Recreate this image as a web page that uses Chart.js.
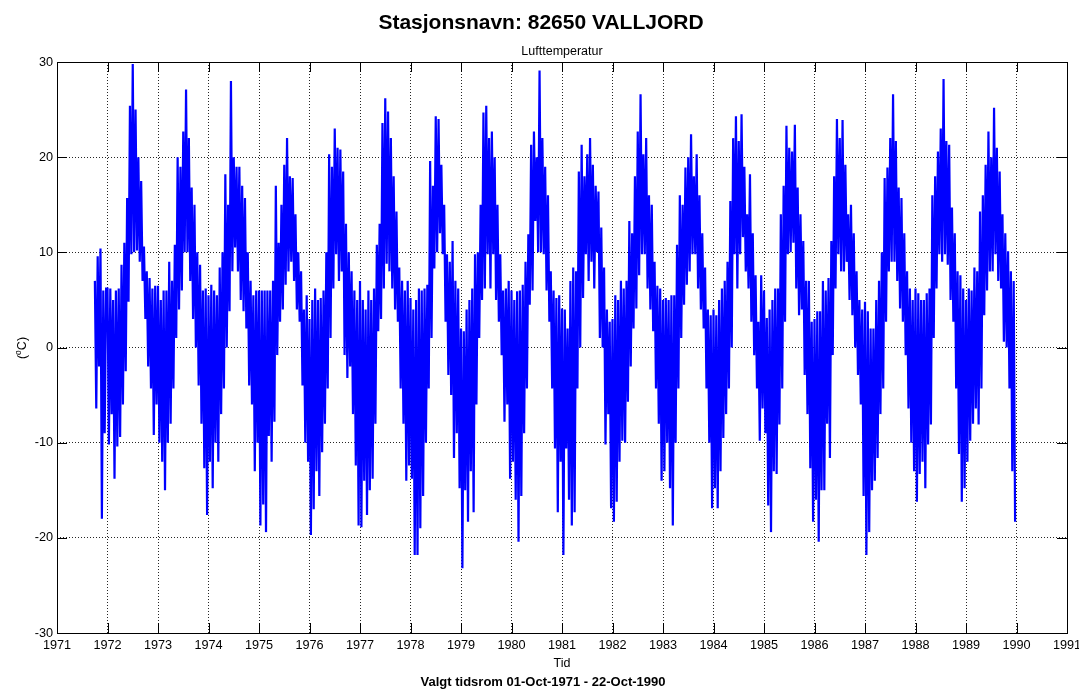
<!DOCTYPE html>
<html><head><meta charset="utf-8">
<script src="https://cdn.jsdelivr.net/npm/chart.js@4.4.0/dist/chart.umd.min.js"></script>
<style>html,body{margin:0;padding:0;background:#fff;}#wrap{width:1079px;height:690px;}</style>
</head><body><div id="wrap"><canvas id="c" width="1079" height="690"></canvas></div>
<script>
// ---- data (sample every 1/36 year, alternating daily highs/lows) ----
const startYear = 1971.75;
const samplesPerYear = 36;
const y1971 = [7,-6.4,9.6,-2,10.4,-18,6,-9,6.2];
const y1972 = [6.2,-10.2,6.2,-7,5,-13.8,6,-10.4,6.2,-9.4,8.7,-6,11,-2.5,15.7,4.8,25.4,9.8,29.8,10,25,10.2,20,9,17.5,7,10.6,3,8,-2,7.3,-4.3,6.2,-9.2,6.5,-6];
const y1973 = [6.5,-10,5,-12,6,-15,6,-10,9,-8,7,-4.3,10.8,1,20,4,19,6,22.7,10,27.1,10,22,7,16.8,3,15,0,10,-4,8.7,-8,6,-12.7,6.2,-17.6];
const y1974 = [5.5,-12,6.6,-14.8,6,-10,5.5,-12,8.4,-7,10,-4.3,18.2,0,15,3.8,28,8,20,10.5,19,8,19,5,17,3.8,15.7,2,10,-4,7,-6,5.5,-13,6,-10];
const y1975 = [6,-18.7,6,-16.5,6,-19.4,6,-9.3,6,-12,7,-7.8,17,-0.8,11,2.7,15,4,19.2,6.6,22,8,18,9,17.8,7,14,4,10,2.7,8,-4,4,-10,5.5,-12];
const y1976 = [3,-19.7,5,-17,6.2,-13,5,-15.6,5.2,-11,6,-8,10,-4.3,20.3,1,19,6.2,23,9.8,21,7,20.8,8,18.5,-0.8,13,-3.2,10,-2,8,-7,6,-12.4,5,-18.7];
const y1977 = [7,-18.9,5,-14,4,-17.6,6,-15,5,-13.8,6.2,-8,10.8,1.7,13,3,23.6,6.2,26.2,8.8,24.8,8,22,6.2,18,4,14.3,2.7,8.4,-4.3,7,-8,6,-14,7,-12.4];
const y1978 = [5.2,-13.8,4,-21.8,5,-21.8,6.2,-19,6,-15.6,6.2,-10,6.6,-4.3,19.6,1,17,8.3,24.3,10,24,12,19.2,9.8,15,2.7,9.8,-2.9,9,-5,11.2,-11.6,7,-9,6.2,-14.8];
const y1979 = [2,-23.2,1.7,-15,4,-18.3,5,-13,6.2,-17.3,9.8,-6,10,1,15,5,24.7,6.2,25.4,9.8,22,6.2,22.7,9.8,20,5,15,2.7,9.8,-0.8,6,-7.8,6.2,-6,7,-13.8];
const y1980 = [6,-12,5,-16,5.9,-20.4,6,-15.6,6.6,-9,9,-4.3,11.9,4.5,21.3,6,22.7,13.3,20,10,29.1,10,22,9.8,19,6,16,2.7,8,-4.3,6,-10.6,5.2,-17.3,5.5,-12];
const y1981 = [4.1,-21.8,4,-10.6,2,-16,7,-18.7,8.4,-17.3,8,-4.3,18.5,0,21.3,5.2,18,9.8,20.3,7,22,9,19.2,6.2,17,10,16.4,1,12.6,0,8.4,-10.2,4,-7,2.7,-16.9];
const y1982 = [3,-18.3,5.5,-16.2,5,-12,7,-9.8,6.2,-10,7,-5.7,13.3,-2,12,2,18,4.1,22.7,7.6,26.6,9.8,20.3,9.8,22,6.2,16,4,15,1.7,9,-4.3,6.5,-8,6.2,-14];
const y1983 = [5,-13,5.2,-10,5,-14.8,5.5,-18.7,5.5,-10,10.8,-4.3,16,1,15,4.5,18.9,6.6,20,8,22.4,9.8,18,9.8,20.3,6.2,16,4,12,2,8.4,-4.3,4,-10,3.4,-16.9];
const y1984 = [4,-14.8,3.4,-16.9,5,-13,6.2,-9.5,7,-7,9,-4.3,15.4,0,22,9.8,24.3,6.2,21.7,9.8,24.5,11.6,19,8,14,6.2,18.2,2.7,12,-0.8,7.6,-4.3,2.7,-9.8,7.6,-6.4];
const y1985 = [6,-9,3.1,-16.6,4,-19.4,5,-13,6.2,-13.3,6.2,-8.1,14,-4.3,17,2.7,23.3,9.8,21,10,20.6,11,23.4,6.2,16.8,3.4,14,4,11.2,-2.9,7,-7,7,-12.7,2.7,-18.3];
const y1986 = [3,-16,3.8,-20.4,3.8,-15,7,-15,6,-8,7.3,-11.6,11.2,-0.8,18,6.2,24,9.8,22,8,23.9,8,19.2,9,14,5,15,3.4,12,0,8,-2.9,5,-6,4,-15.6];
const y1987 = [4.8,-21.8,3.8,-19.4,2,-15,2,-14,5,-11.6,7,-7,10,-4.3,17.8,2.7,18.9,8,22,9,26.6,9,21.7,7,16.8,4.1,15.7,2.7,12,-0.8,8,-6.4,6.2,-10,5,-13];
const y1988 = [6.2,-16.2,5.7,-13.3,5,-12,5,-14.8,5.7,-10.2,6.2,-8.1,16,1,18,6.2,20.6,9.8,23,9,28.2,9.8,21.7,8.7,21.3,5,14.7,2.7,12,-4.3,8,-11.2,7.6,-16.2,6.2,-14.8];
const y1989 = [5,-12,6.2,-9.8,6,-8,8.4,-6.4,8,-8.1,14.3,-4.3,16,3.4,19.2,6,22.7,8,20,8,25.2,9.8,21,7,18.5,6.2,14,0.6,12,0,10.1,-4.3,8,-13,7,-18.3];

const xTicks = [1971,1972,1973,1974,1975,1976,1977,1978,1979,1980,1981,1982,1983,1984,1985,1986,1987,1988,1989,1990,1991];
const yTicks = [-30,-20,-10,0,10,20,30];

const titleText = 'Stasjonsnavn: 82650 VALLJORD';
const subtitleText = 'Lufttemperatur';
const xLabel = 'Tid';
const periodText = 'Valgt tidsrom 01-Oct-1971 - 22-Oct-1990';

const temps = [].concat(y1971,y1972,y1973,y1974,y1975,y1976,y1977,y1978,y1979,y1980,
  y1981,y1982,y1983,y1984,y1985,y1986,y1987,y1988,y1989);
const points = temps.map((v,i)=>({x: startYear + i/samplesPerYear, y: v}));

const FONT = '"Liberation Sans", Arial, Helvetica, sans-serif';

const frame = {
  id: 'frame',
  afterDatasetsDraw(chart){
    const {ctx, chartArea: a, scales: {x, y}} = chart;
    ctx.save();
    ctx.strokeStyle = '#000';
    ctx.lineWidth = 1;
    ctx.setLineDash([]);
    ctx.beginPath();
    xTicks.forEach(v => {
      const px = Math.round(x.getPixelForValue(v)) + 0.5;
      ctx.moveTo(px, a.bottom); ctx.lineTo(px, a.bottom - 10);
      ctx.moveTo(px, a.top); ctx.lineTo(px, a.top + 10);
    });
    yTicks.forEach(v => {
      const py = Math.round(y.getPixelForValue(v)) + 0.5;
      ctx.moveTo(a.left, py); ctx.lineTo(a.left + 10, py);
      ctx.moveTo(a.right, py); ctx.lineTo(a.right - 10, py);
    });
    ctx.stroke();
    ctx.strokeRect(Math.round(a.left) + 0.5, Math.round(a.top) + 0.5,
      Math.round(a.right - a.left), Math.round(a.bottom - a.top));
    ctx.restore();
  },
  afterDraw(chart){
    const {ctx, chartArea: a} = chart;
    const cx = (a.left + a.right) / 2;
    ctx.save();
    ctx.fillStyle = '#000';
    ctx.textAlign = 'center';
    ctx.textBaseline = 'alphabetic';
    ctx.font = 'bold 21px ' + FONT;
    ctx.fillText(titleText, 541, 29);
    ctx.font = '12.5px ' + FONT;
    ctx.fillText(subtitleText, cx, 55);
    ctx.fillText(xLabel, cx, 667);
    ctx.font = 'bold 13px ' + FONT;
    ctx.fillText(periodText, 543, 686);
    // y axis label (°C) with superscript o, rotated
    ctx.translate(26, 348);
    ctx.rotate(-Math.PI / 2);
    ctx.textAlign = 'left';
    const p1 = '(', p3 = 'C)';
    ctx.font = '12.5px ' + FONT;
    const w1 = ctx.measureText(p1).width;
    ctx.font = '8.5px ' + FONT;
    const w2 = ctx.measureText('o').width;
    ctx.font = '12.5px ' + FONT;
    const w3 = ctx.measureText(p3).width;
    let sx = -(w1 + w2 + w3) / 2;
    ctx.fillText(p1, sx, 0); sx += w1;
    ctx.font = '8.5px ' + FONT;
    ctx.fillText('o', sx, -5); sx += w2;
    ctx.font = '12.5px ' + FONT;
    ctx.fillText(p3, sx, 0);
    ctx.restore();
  }
};

new Chart(document.getElementById('c'), {
  type: 'line',
  data: {
    datasets: [{
      data: points,
      borderColor: '#0000ff',
      borderWidth: 2.2,
      borderJoinStyle: 'miter',
      pointRadius: 0,
      tension: 0,
      fill: false
    }]
  },
  options: {
    responsive: false,
    devicePixelRatio: 1,
    animation: false,
    events: [],
    layout: {padding: {top: 62, right: 12, bottom: 0, left: 0}},
    plugins: {legend: {display: false}, tooltip: {enabled: false}, title: {display: false}},
    scales: {
      x: {
        type: 'linear', min: 1971, max: 1991,
        afterBuildTicks: s => { s.ticks = xTicks.map(v => ({value: v})); },
        afterFit: s => { s.height = 57; s.paddingLeft = 0; s.paddingRight = 0; },
        ticks: {autoSkip: false, maxRotation: 0, padding: 5, color: '#000',
          font: {family: FONT, size: 12.7}, callback: v => String(v)},
        grid: {color: 'rgba(0,0,0,0.85)', lineWidth: 1, drawTicks: false},
        border: {display: false, dash: [1, 2]}
      },
      y: {
        type: 'linear', min: -30, max: 30,
        afterBuildTicks: s => { s.ticks = yTicks.map(v => ({value: v})); },
        afterFit: s => { s.width = 57; s.paddingTop = 0; s.paddingBottom = 0; },
        ticks: {padding: 4, color: '#000', font: {family: FONT, size: 12.7}, callback: v => String(v)},
        grid: {color: 'rgba(0,0,0,0.85)', lineWidth: 1, drawTicks: false},
        border: {display: false, dash: [1, 2]}
      }
    }
  },
  plugins: [frame]
});
</script>
</body></html>
